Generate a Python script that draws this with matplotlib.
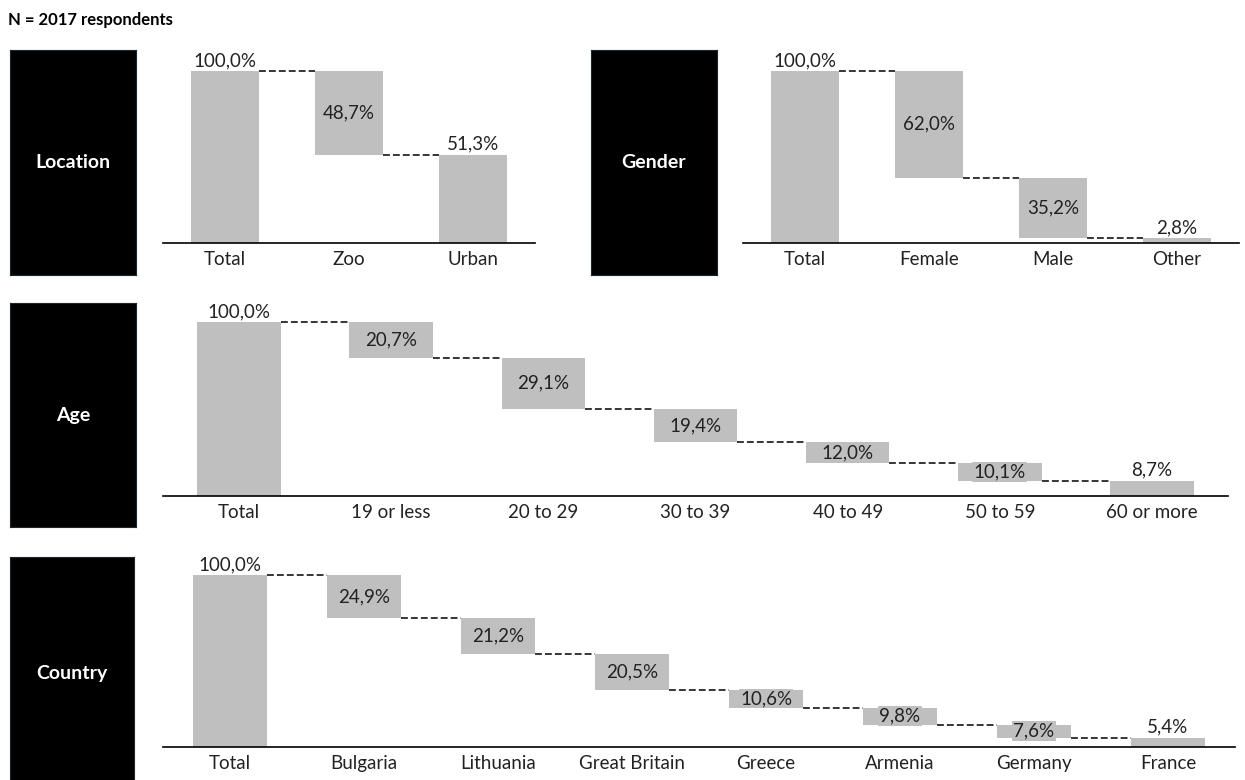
import matplotlib
matplotlib.use("Agg")
import matplotlib.pyplot as plt

plt.rcParams['font.family'] = ['Lato', 'DejaVu Sans']

# data
location_cats = ["Total", "Zoo", "Urban"]
location_vals = [100.0, 48.7, 51.3]

gender_cats = ["Total", "Female", "Male", "Other"]
gender_vals = [100.0, 62.0, 35.2, 2.8]

age_cats = ["Total", "19 or less", "20 to 29", "30 to 39", "40 to 49", "50 to 59", "60 or more"]
age_vals = [100.0, 20.7, 29.1, 19.4, 12.0, 10.1, 8.7]

country_cats = ["Total", "Bulgaria", "Lithuania", "Great Britain", "Greece", "Armenia", "Germany", "France"]
country_vals = [100.0, 24.9, 21.2, 20.5, 10.6, 9.8, 7.6, 5.4]

W, H = 1245, 780
fig = plt.figure(figsize=(W / 100, H / 100), dpi=100)

GRAY = "#BFBFBF"
TXT = "#222222"
FS = 13.5


def pct(v):
    return f"{v:.1f}%".replace(".", ",")


def black_box(x0, x1, y0, y1, label):
    ax = fig.add_axes([x0 / W, (H - y1) / H, (x1 - x0) / W, (y1 - y0) / H])
    ax.set_facecolor("black")
    ax.set_xticks([])
    ax.set_yticks([])
    for s in ax.spines.values():
        s.set_color("#1c2630")
    ax.text(0.5, 0.5, label, color="white", fontsize=14, fontweight="bold",
            ha="center", va="center", transform=ax.transAxes)


def waterfall(left, right, base, per100, cats, vals, width=0.55):
    ytop = 125
    h = per100 * ytop / 100
    ax = fig.add_axes([left / W, (H - base) / H, (right - left) / W, h / H])
    n = len(cats)
    level = vals[0]
    ax.bar(0, vals[0], width=width, color=GRAY)
    ax.text(0, vals[0] + 1.2, pct(vals[0]), ha="center", va="bottom", fontsize=FS, color=TXT)
    for i in range(1, n):
        v = vals[i]
        ax.plot([i - 1 + width / 2, i - width / 2], [level, level], color="black",
                lw=1.1, dashes=(4.5, 2))
        bottom = level - v
        if i == n - 1:
            bottom = 0
        ax.bar(i, v, bottom=bottom, width=width, color=GRAY)
        if i == n - 1:
            ax.text(i, bottom + v + 1.2, pct(v), ha="center", va="bottom", fontsize=FS, color=TXT)
        else:
            ax.text(i, bottom + v / 2, pct(v), ha="center", va="center", fontsize=FS, color=TXT,
                    bbox=dict(facecolor=GRAY, edgecolor="none", pad=1.0))
        level = bottom
    ax.set_xlim(-0.5, n - 0.5)
    ax.set_ylim(0, ytop)
    ax.set_xticks(range(n))
    ax.set_xticklabels(cats, fontsize=FS, color=TXT)
    ax.tick_params(axis="x", length=0, pad=6)
    ax.set_yticks([])
    for s in ["top", "right", "left"]:
        ax.spines[s].set_visible(False)
    ax.spines["bottom"].set_linewidth(1.2)
    ax.patch.set_alpha(0)
    return ax


fig.text(8 / W, 1 - 20 / H, "N = 2017 respondents", fontsize=12, fontweight="bold", va="center")

black_box(10, 136, 50, 275, "Location")
black_box(591, 717, 50, 275, "Gender")
black_box(10, 136, 303, 527, "Age")
black_box(10, 134, 557, 790, "Country")

waterfall(163, 535, 243, 172, location_cats, location_vals)
waterfall(743, 1239, 243, 172, gender_cats, gender_vals)
waterfall(163, 1228, 496, 174, age_cats, age_vals)
waterfall(163, 1235, 747, 172, country_cats, country_vals)

fig.savefig("out.png", dpi=100)
